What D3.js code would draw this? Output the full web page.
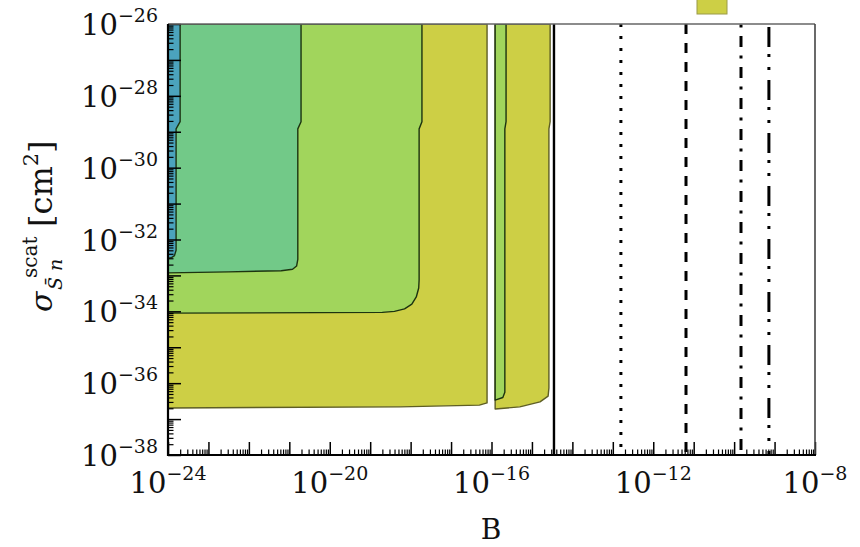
<!DOCTYPE html>
<html>
<head>
<meta charset="utf-8">
<script src="https://cdn.jsdelivr.net/npm/d3@7"></script>
<style>
    body { margin: 0; background: #fff; }
    svg { display: block; }
    text { font-family: "DejaVu Serif", serif; fill: #111; }
</style>
</head>
<body>
<div class="canvas"></div>
<script>
// exclusion regions, as [log10 B, log10 sigma] boundary points
const regionYellowLeft = [[-24, -26], [-16.11, -26], [-16.11, -36.55], [-16.3, -36.61], [-18.26, -36.66], [-24, -36.69]];
const regionYellowRight = [[-15.91, -26], [-14.55, -26], [-14.55, -28.72], [-14.58, -28.92], [-14.58, -36.13], [-14.6, -36.36], [-14.8, -36.52], [-15.3, -36.66], [-15.91, -36.72]];
const regionLightGreenLeft = [[-24, -26], [-17.72, -26], [-17.72, -28.72], [-17.79, -28.92], [-17.79, -33.13], [-17.8, -33.35], [-17.86, -33.6], [-17.97, -33.8], [-18.15, -33.93], [-18.4, -34.0], [-18.7, -34.03], [-24, -34.05]];
const regionLightGreenRight = [[-15.91, -26], [-15.64, -26], [-15.64, -28.72], [-15.67, -28.92], [-15.67, -36.25], [-15.72, -36.4], [-15.91, -36.47]];
const regionGreen = [[-24, -26], [-20.71, -26], [-20.71, -28.72], [-20.79, -28.92], [-20.79, -32.55], [-20.82, -32.74], [-20.92, -32.83], [-21.2, -32.87], [-22.5, -32.9], [-24, -32.93]];
const regionBlue = [[-24, -26], [-23.7, -26], [-23.7, -28.72], [-23.8, -28.92], [-23.8, -32.3], [-23.84, -32.45], [-23.92, -32.51], [-24, -32.52]];

// vertical bounds, log10 B
const boundLines = [-14.455, -12.8, -11.19, -9.83, -9.14];

// tick labels (exponents)
const xTickExps = [-24, -20, -16, -12, -8];
const yTickExps = [-26, -28, -30, -32, -34, -36, -38];

const dims = { width: 860, height: 547 };
const plot = { left: 168, right: 815, top: 24, bottom: 455 };

const svg = d3.select('.canvas')
    .append('svg')
    .attr('width', dims.width)
    .attr('height', dims.height);

const x = d3.scaleLog().domain([1e-24, 1e-8]).range([plot.left, plot.right]);
const y = d3.scaleLog().domain([1e-38, 1e-26]).range([plot.bottom, plot.top]);

const line = d3.line()
    .x(d => x(Math.pow(10, d[0])))
    .y(d => y(Math.pow(10, d[1])));

// Regions, outer first
const regions = [
    { pts: regionYellowLeft, fill: '#cdcf45', stroke: '#5e5e24' },
    { pts: regionYellowRight, fill: '#cdcf45', stroke: '#5e5e24' },
    { pts: regionLightGreenLeft, fill: '#a1d55c', stroke: '#1c3310' },
    { pts: regionLightGreenRight, fill: '#a1d55c', stroke: '#1c3310' },
    { pts: regionGreen, fill: '#72c988', stroke: '#1c3310' },
    { pts: regionBlue, fill: '#4ba3bd', stroke: '#1c3310' }
];

svg.append('defs').append('clipPath').attr('id', 'clip')
    .append('rect')
    .attr('x', plot.left).attr('y', plot.top)
    .attr('width', plot.right - plot.left).attr('height', plot.bottom - plot.top);

const graph = svg.append('g').attr('clip-path', 'url(#clip)');

graph.selectAll('path.region')
    .data(regions)
    .enter()
    .append('path')
        .attr('class', 'region')
        .attr('d', d => line(d.pts) + 'Z')
        .attr('fill', d => d.fill)
        .attr('stroke', d => d.stroke)
        .attr('stroke-width', 1.4)
        .attr('stroke-linejoin', 'round');

// Vertical lines: solid, dotted, dashed, dash-dot, dash-dot-dot
const dashes = [null, '3,9', '10,9', '11,8.5,3,8.5', '20,7,3,10,3,10'];
const offsets = [0, 0, 0, 19, 50];

graph.selectAll('line.bound')
    .data(boundLines)
    .enter()
    .append('line')
        .attr('class', 'bound')
        .attr('x1', d => x(Math.pow(10, d)))
        .attr('x2', d => x(Math.pow(10, d)))
        .attr('y1', plot.top)
        .attr('y2', plot.bottom)
        .attr('stroke', '#000')
        .attr('stroke-width', (d, i) => i === 0 ? 2.4 : 3)
        .attr('stroke-dasharray', (d, i) => dashes[i])
        .attr('stroke-dashoffset', (d, i) => offsets[i]);

// Ticks
const decadesX = d3.range(-24, -7);
const decadesY = d3.range(-38, -25);
const minor = decs => decs.slice(0, -1).flatMap(e => d3.range(2, 10).map(m => m * Math.pow(10, e)));

const axisGroup = svg.append('g');

axisGroup.append('g')
    .attr('transform', `translate(0, ${plot.bottom})`)
    .call(d3.axisBottom(x).tickValues(decadesX.map(e => Math.pow(10, e))).tickSize(-13).tickSizeOuter(0).tickFormat(''))
    .call(g => g.select('.domain').remove())
    .call(g => g.selectAll('line').attr('stroke-width', 1.5));

axisGroup.append('g')
    .attr('transform', `translate(0, ${plot.bottom})`)
    .call(d3.axisBottom(x).tickValues(minor(decadesX)).tickSize(-5.5).tickSizeOuter(0).tickFormat(''))
    .call(g => g.select('.domain').remove())
    .call(g => g.selectAll('line').attr('stroke-width', 1.2));

axisGroup.append('g')
    .attr('transform', `translate(${plot.left}, 0)`)
    .call(d3.axisLeft(y).tickValues(decadesY.map(e => Math.pow(10, e))).tickSize(-13).tickSizeOuter(0).tickFormat(''))
    .call(g => g.select('.domain').remove())
    .call(g => g.selectAll('line').attr('stroke-width', 1.5));

axisGroup.append('g')
    .attr('transform', `translate(${plot.left}, 0)`)
    .call(d3.axisLeft(y).tickValues(minor(decadesY)).tickSize(-5.5).tickSizeOuter(0).tickFormat(''))
    .call(g => g.select('.domain').remove())
    .call(g => g.selectAll('line').attr('stroke-width', 1.2));

// Frame
svg.append('line').attr('x1', plot.left).attr('x2', plot.right).attr('y1', plot.top).attr('y2', plot.top)
    .attr('stroke', '#666').attr('stroke-width', 1.6);
svg.append('line').attr('x1', plot.right).attr('x2', plot.right).attr('y1', plot.top).attr('y2', plot.bottom)
    .attr('stroke', '#444').attr('stroke-width', 1.6);
svg.append('line').attr('x1', plot.left).attr('x2', plot.right + 1).attr('y1', plot.bottom).attr('y2', plot.bottom)
    .attr('stroke', '#000').attr('stroke-width', 2.2);
svg.append('line').attr('x1', plot.left).attr('x2', plot.left).attr('y1', plot.top).attr('y2', plot.bottom + 1)
    .attr('stroke', '#000').attr('stroke-width', 2.2);

// Tick labels with superscript exponents
const powLabel = (sel, e) => {
    sel.append('tspan').text('10');
    sel.append('tspan').attr('dy', -13).attr('font-size', 19).text('\u2212' + Math.abs(e));
};

svg.selectAll('text.xlab')
    .data(xTickExps)
    .enter()
    .append('text')
        .attr('class', 'xlab')
        .attr('x', d => x(Math.pow(10, d)))
        .attr('y', plot.bottom + 38)
        .attr('text-anchor', 'middle')
        .attr('font-size', 29)
        .each(function(d) { powLabel(d3.select(this), d); });

svg.selectAll('text.ylab')
    .data(yTickExps)
    .enter()
    .append('text')
        .attr('class', 'ylab')
        .attr('x', plot.left - 10)
        .attr('y', d => y(Math.pow(10, d)) + 11)
        .attr('text-anchor', 'end')
        .attr('font-size', 29)
        .each(function(d) { powLabel(d3.select(this), d); });

// Axis titles
svg.append('text')
    .attr('x', 491)
    .attr('y', 539)
    .attr('text-anchor', 'middle')
    .attr('font-size', 28)
    .text('B');

const yTitle = svg.append('g').attr('transform', 'translate(52, 222) rotate(-90)');
yTitle.append('text').attr('x', -90).attr('y', 0).attr('font-size', 30).attr('font-style', 'italic').text('\u03c3');
yTitle.append('text').attr('x', -68).attr('y', 10).attr('font-size', 19).attr('font-style', 'italic').text('S\u0304 n');
yTitle.append('text').attr('x', -56).attr('y', -15).attr('font-size', 20).text('scat');
yTitle.append('text').attr('x', -5).attr('y', 0).attr('font-size', 32)
    .call(t => {
        t.append('tspan').text('[cm');
        t.append('tspan').attr('dy', -14).attr('font-size', 21).text('2');
        t.append('tspan').attr('dy', 14).text(']');
    });

// Cut-off legend patch at top
svg.append('rect')
    .attr('x', 697).attr('y', -2)
    .attr('width', 30).attr('height', 16)
    .attr('fill', '#cdcf45')
    .attr('stroke', '#9a9a48')
    .attr('stroke-width', 1);
</script>
</body>
</html>
